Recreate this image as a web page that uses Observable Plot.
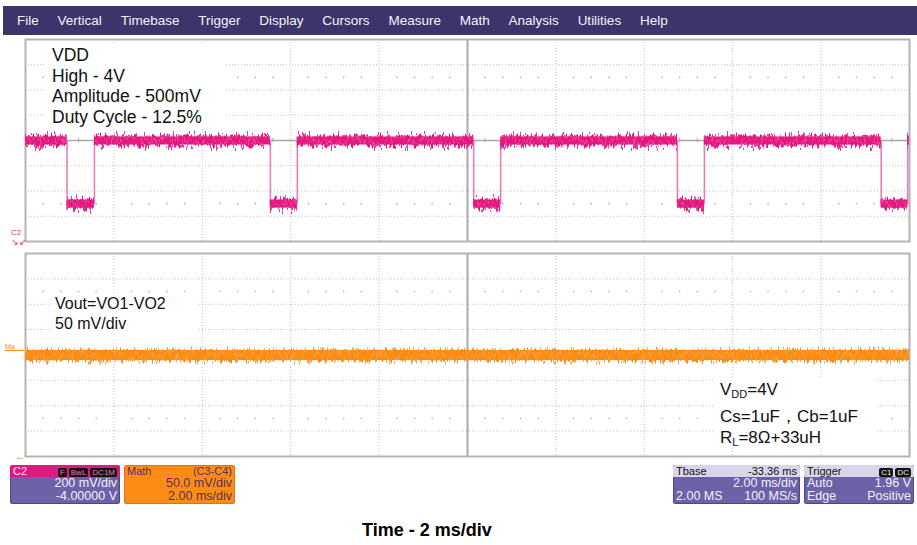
<!DOCTYPE html>
<html>
<head>
<meta charset="utf-8">
<script src="https://cdn.jsdelivr.net/npm/d3@7"></script>
<script src="https://cdn.jsdelivr.net/npm/@observablehq/plot@0.6"></script>
<style>
  html, body { margin: 0; padding: 0; background: #fff; }
  #screen { position: relative; width: 917px; height: 545px; overflow: hidden;
            font-family: "Liberation Sans", Arial, sans-serif; }
  #menu { position: absolute; left: 3px; top: 6px; width: 914px; height: 29px; background: #3d346b;
          color: #f4f2fa; font-size: 13.5px; display: flex; align-items: center; gap: 18.8px;
          padding-left: 14px; box-sizing: border-box; }
  .panel { position: absolute; left: 0; }
  .note { position: absolute; background: #fff; color: #111; }
  .note div { white-space: nowrap; }
  .ibox { position: absolute; top: 465px; height: 39px; border-radius: 3px; overflow: hidden;
          background: #6d62a7; color: #f3f1fb; box-shadow: inset 0 0 0 1px #4f4587; }
  .ibox .hdr { height: 12px; line-height: 12px; font-size: 11px; display: flex;
               justify-content: space-between; align-items: center; padding: 0 3px; }
  .ibox .row { height: 13px; line-height: 13px; font-size: 12.5px; display: flex;
               justify-content: space-between; padding: 0 3px; }
  .ibox .r { justify-content: flex-end; }
  .badge { display: inline-block; background: #111; border-radius: 2px; padding: 0 2px;
           line-height: 9px; font-size: 8px; margin-left: 2px; }
  .mark { position: absolute; }
  #xlabel { position: absolute; left: 362px; top: 520px; font-size: 18px; font-weight: bold; color: #000; }
</style>
</head>
<body>
<div id="screen">
  <div id="menu"></div>
  <div id="c2panel" class="panel" style="top:30px"></div>
  <div id="mathpanel" class="panel" style="top:245px"></div>

  <div class="note" style="left:44px;top:45px;width:180px;height:84px;font-size:17.5px;line-height:20.5px;padding-left:8px;box-sizing:border-box;">
    <div>VDD</div><div>High - 4V</div><div>Amplitude - 500mV</div><div>Duty Cycle - 12.5%</div>
  </div>
  <div class="note" style="left:50px;top:294px;width:148px;height:46px;font-size:16px;line-height:20px;padding-left:5px;box-sizing:border-box;">
    <div>Vout=VO1-VO2</div><div>50 mV/div</div>
  </div>
  <div class="note" style="left:714px;top:379px;width:163px;height:68px;font-size:17px;line-height:21.5px;padding-left:6px;box-sizing:border-box;">
    <div>V<sub style="font-size:11px;vertical-align:-3px">DD</sub>=4V</div>
    <div>Cs=1uF，Cb=1uF</div>
    <div>R<sub style="font-size:11px;vertical-align:-3px">L</sub>=8Ω+33uH</div>
  </div>

  <div class="mark" style="left:11px;top:229px;color:#e0318c;font-size:8px;line-height:8px;">C2</div>
  <div class="mark" style="left:11px;top:238px;color:#e0318c;font-size:9px;line-height:9px;">&#8600;&#8601;</div>
  <div class="mark" style="left:5px;top:343px;color:#f08a1c;border-bottom:1px solid #f08a1c;width:19px;font-size:7px;line-height:7px;">Ma</div>
  <div class="mark" style="left:15px;top:451px;color:#f08a1c;font-size:11px;line-height:11px;">&#8592;</div>

  <div class="ibox" style="left:10px;width:110px;">
    <div class="hdr" style="background:#de1a7e;color:#fbe3f0;"><span>C2</span>
      <span><span class="badge" style="color:#f07ab8">F</span><span class="badge" style="color:#f07ab8">BwL</span><span class="badge" style="color:#f07ab8">DC1M</span></span></div>
    <div class="row r">200 mV/div</div>
    <div class="row r">-4.00000 V</div>
  </div>
  <div class="ibox" style="left:124px;width:111px;background:#fd8c16;color:#5a2f5e;box-shadow:inset 0 0 0 1px #d9741a;">
    <div class="hdr"><span>Math</span><span>(C3-C4)</span></div>
    <div class="row r">50.0 mV/div</div>
    <div class="row r">2.00 ms/div</div>
  </div>
  <div class="ibox" style="left:673px;width:127px;">
    <div class="hdr" style="background:#d8d6e8;color:#111;"><span>Tbase</span><span>-33.36 ms</span></div>
    <div class="row r">2.00 ms/div</div>
    <div class="row"><span>2.00 MS</span><span>100 MS/s</span></div>
  </div>
  <div class="ibox" style="left:804px;width:110px;">
    <div class="hdr" style="background:#d8d6e8;color:#111;"><span>Trigger</span>
      <span><span class="badge" style="color:#eee">C1</span><span class="badge" style="color:#eee">DC</span></span></div>
    <div class="row"><span>Auto</span><span>1.96 V</span></div>
    <div class="row"><span>Edge</span><span>Positive</span></div>
  </div>

  <div id="xlabel">Time - 2 ms/div</div>
</div>

<script>
// Instrument settings
const menuItems = ["File", "Vertical", "Timebase", "Trigger", "Display", "Cursors",
                   "Measure", "Math", "Analysis", "Utilities", "Help"];
const msPerDiv = 2;          // timebase, ms/div
const c2VoltsPerDiv = 0.2;   // C2: 200 mV/div
const c2Centre = 4.0;        // C2 offset -4.00000 V -> screen centre at 4 V
const mathMvPerDiv = 50;     // Math (C3-C4): 50 mV/div
const mathCentre = 0;        // mV

// C2 (VDD) trace: start and end of each low dip, ms from left of screen
const dipStart = [0.94, 5.54, 10.14, 14.75, 19.36];
const dipEnd   = [1.56, 6.15, 10.75, 15.36, 19.96];
const vddHigh = 4.0;         // V
const vddLow  = 3.5;         // V

// Math trace: Vout = VO1 - VO2, mV
const voutLevel = 0;

const menu = document.getElementById("menu");
menuItems.forEach(m => { const s = document.createElement("span"); s.textContent = m; menu.appendChild(s); });

const tEnd = 10 * msPerDiv;

// step waveform of C2 and its flat levels
const steps = [{t: 0, v: vddHigh}];
dipStart.forEach((s, i) => {
  steps.push({t: s, v: vddHigh}, {t: s, v: vddLow}, {t: dipEnd[i], v: vddLow}, {t: dipEnd[i], v: vddHigh});
});
steps.push({t: tEnd, v: vddHigh});
const levels = [];
let prev = 0;
dipStart.forEach((s, i) => {
  levels.push({t0: prev, t1: s, v: vddHigh}, {t0: s, t1: dipEnd[i], v: vddLow});
  prev = dipEnd[i];
});
levels.push({t0: prev, t1: tEnd, v: vddHigh});

// 10 x 8 graticule with centre cross and minor marks
function graticule(centre, perDiv) {
  const xs = d3.range(1, 10).filter(k => k !== 5).map(k => k * msPerDiv);
  const ys = d3.range(-3, 4).filter(k => k !== 0).map(k => centre + k * perDiv);
  const minor = d3.range(1, 50).filter(k => k % 5).map(k => k * msPerDiv / 5);
  const dotted = {stroke: "#c2c2c2", strokeDasharray: "1,2", strokeWidth: 1};
  return [
    Plot.ruleX(xs, dotted),
    Plot.ruleY(ys, dotted),
    Plot.dot(minor, {x: d => d, y: () => centre + 2.5 * perDiv, r: 0.8, fill: "#ababab"}),
    Plot.dot(minor, {x: d => d, y: () => centre - 2.5 * perDiv, r: 0.8, fill: "#ababab"}),
    Plot.ruleX([5 * msPerDiv], {stroke: "#a9a9a9", strokeWidth: 2}),
    Plot.ruleY([centre], {stroke: "#a9a9a9", strokeWidth: 1.3}),
    Plot.ruleX(minor, {x: d => d, y1: () => centre - 0.09 * perDiv, y2: () => centre + 0.09 * perDiv, stroke: "#a9a9a9"}),
    Plot.frame({stroke: "#b3b3b3", strokeWidth: 2})
  ];
}

// trace noise: per-column vertical jitter from a turbulence map
function addJitter(svg, id, seed, gain) {
  const defs = document.createElementNS("http://www.w3.org/2000/svg", "defs");
  defs.innerHTML =
    `<filter id="${id}" filterUnits="userSpaceOnUse" x="0" y="0" width="917" height="215" color-interpolation-filters="sRGB">
       <feTurbulence type="fractalNoise" baseFrequency="0.55 0.03" numOctaves="2" seed="${seed}" result="t"/>
       <feColorMatrix in="t" type="matrix" values="2.2 0 0 0 -0.6  0 0 0 0 0.5  0 0 0 0 0  0 0 0 0 1" result="n"/>
       <feDisplacementMap in="SourceGraphic" in2="n" scale="${gain}" xChannelSelector="G" yChannelSelector="R"/>
     </filter>`;
  svg.prepend(defs);
}

const common = {
  width: 917, height: 215, marginLeft: 25, marginRight: 8,
  x: {domain: [0, tEnd], axis: null},
  style: {background: "transparent", overflow: "visible"}
};

const c2 = Plot.plot({
  ...common, marginTop: 9, marginBottom: 4,
  y: {domain: [c2Centre - 4 * c2VoltsPerDiv, c2Centre + 4 * c2VoltsPerDiv], axis: null},
  marks: [
    ...graticule(c2Centre, c2VoltsPerDiv),
    Plot.line(steps, {x: "t", y: "v", stroke: "#e680b8", strokeWidth: 1.6}),
    Plot.ruleY(levels, {y: "v", x1: "t0", x2: "t1", stroke: "#e5187f", strokeWidth: 8}),
    Plot.ruleY(levels, {y: "v", x1: "t0", x2: "t1", stroke: "#e5187f", strokeWidth: 8, ariaDescription: "c2-noise"}),
    Plot.ruleY(levels, {y: "v", x1: "t0", x2: "t1", stroke: "#e8409a", strokeWidth: 3, ariaDescription: "c2-spikes"})
  ]
});
addJitter(c2, "c2j", 7, 8);
addJitter(c2, "c2s", 19, 17);
c2.querySelector('[aria-description="c2-noise"]').setAttribute("filter", "url(#c2j)");
c2.querySelector('[aria-description="c2-spikes"]').setAttribute("filter", "url(#c2s)");
document.getElementById("c2panel").appendChild(c2);

const math = Plot.plot({
  ...common, marginTop: 8, marginBottom: 4,
  y: {domain: [mathCentre - 4 * mathMvPerDiv, mathCentre + 4 * mathMvPerDiv], axis: null},
  marks: [
    ...graticule(mathCentre, mathMvPerDiv),
    Plot.ruleY([voutLevel], {y: d => d, x1: () => 0, x2: () => tEnd, stroke: "#fb8b12", strokeWidth: 10}),
    Plot.ruleY([voutLevel], {y: d => d, x1: () => 0, x2: () => tEnd, stroke: "#fb8b12", strokeWidth: 9, ariaDescription: "m-noise"}),
    Plot.ruleY([voutLevel], {y: d => d, x1: () => 0, x2: () => tEnd, stroke: "#f9a040", strokeWidth: 3, ariaDescription: "m-spikes"})
  ]
});
addJitter(math, "mj", 3, 7);
addJitter(math, "ms", 11, 15);
math.querySelector('[aria-description="m-noise"]').setAttribute("filter", "url(#mj)");
math.querySelector('[aria-description="m-spikes"]').setAttribute("filter", "url(#ms)");
document.getElementById("mathpanel").appendChild(math);
</script>
</body>
</html>
